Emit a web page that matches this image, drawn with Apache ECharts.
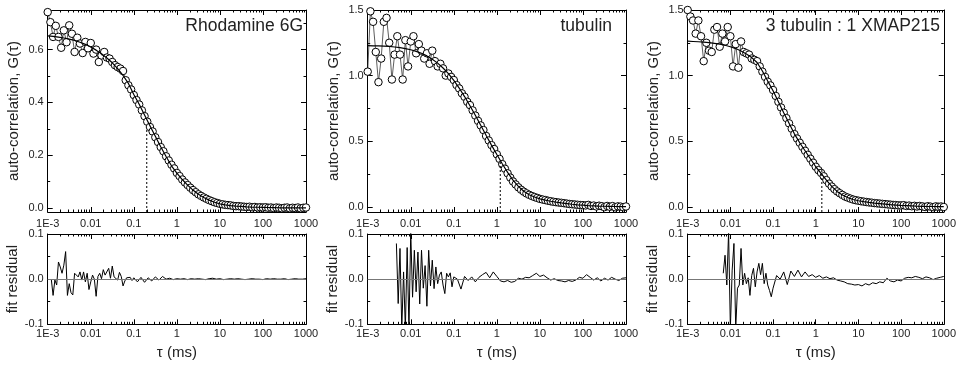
<!DOCTYPE html>
<html><head><meta charset="utf-8">
<script src="https://cdn.jsdelivr.net/npm/echarts@6/dist/echarts.min.js"></script>
<style>html,body{margin:0;padding:0;background:#fff}#c{width:959px;height:366px}</style>
</head><body><div id="c"></div>
<script>
// ---------- DATA ----------
const panelTitles = ['Rhodamine 6G', 'tubulin', '3 tubulin : 1 XMAP215'];
const xTickValues = [0.001, 0.01, 0.1, 1, 10, 100, 1000];
const xTickLabels = ['1E-3', '0.01', '0.1', '1', '10', '100', '1000'];
const yTickTop = [[0, 0.2, 0.4, 0.6], [0, 0.5, 1.0, 1.5], [0, 0.5, 1.0, 1.5]];
const yMinorTop = [[0.1, 0.3, 0.5, 0.7], [0.25, 0.75, 1.25], [0.25, 0.75, 1.25]];
const yRangeTop = [[-0.015, 0.75], [-0.04, 1.5], [-0.04, 1.5]];
const resTicks = [-0.1, 0, 0.1];
const resMinor = [-0.05, 0.05];
const resRange = [-0.1, 0.1];

// lag times of the correlation points (ms)
const lagTau = [
 0.001000,0.001155,0.001334,0.001540,0.001778,0.002054,0.002371,0.002738,0.003162,0.003652,0.004217,0.004870,0.005623,0.006494,0.007499,0.008660,
 0.01000,0.01155,0.01334,0.01540,0.01778,0.02054,0.02371,0.02738,0.03162,0.03652,0.04217,0.04870,0.05623,0.06494,0.07499,0.08660,
 0.1000,0.1155,0.1334,0.1540,0.1778,0.2054,0.2371,0.2738,0.3162,0.3652,0.4217,0.4870,0.5623,0.6494,0.7499,0.8660,
 1.000,1.155,1.334,1.540,1.778,2.054,2.371,2.738,3.162,3.652,4.217,4.870,5.623,6.494,7.499,8.660,
 10.00,11.55,13.34,15.40,17.78,20.54,23.71,27.38,31.62,36.52,42.17,48.70,56.23,64.94,74.99,86.60,
 100.0,115.5,133.4,154.0,177.8,205.4,237.1,273.8,316.2,365.2,421.7,487.0,562.3,649.4,749.9,866.0,
 1000];
// lag times of the fit curves (ms)
const fitTau = [
 0.001,0.001334,0.001778,0.002371,0.003162,0.004217,0.005623,0.007499,
 0.01,0.01334,0.01778,0.02371,0.03162,0.04217,0.05623,0.07499,
 0.1,0.1334,0.1778,0.2371,0.3162,0.4217,0.5623,0.7499,
 1,1.334,1.778,2.371,3.162,4.217,5.623,7.499,
 10,13.34,17.78,23.71,31.62,42.17,56.23,74.99,
 100,133.4,177.8,237.1,316.2,421.7,562.3,749.9,
 1000];
// lag times of the residual traces (ms)
const resTau = [
 0.001000,0.001101,0.001212,0.001334,0.001468,0.001616,0.001778,0.001957,0.002154,0.002371,0.002610,0.002873,0.003162,0.003481,0.003831,0.004217,0.004642,0.005109,0.005623,0.006190,0.006813,0.007499,0.008254,0.009085,
 0.01000,0.01101,0.01212,0.01334,0.01468,0.01616,0.01778,0.01957,0.02154,0.02371,0.02610,0.02873,0.03162,0.03481,0.03831,0.04217,0.04642,0.05109,0.05623,0.06190,0.06813,0.07499,0.08254,0.09085,
 0.1000,0.1212,0.1468,0.1778,0.2154,0.2610,0.3162,0.3831,0.4642,0.5623,0.6813,0.8254,
 1.000,1.212,1.468,1.778,2.154,2.610,3.162,3.831,4.642,5.623,6.813,8.254,
 10.00,12.12,14.68,17.78,21.54,26.10,31.62,38.31,46.42,56.23,68.13,82.54,
 100.0,121.2,146.8,177.8,215.4,261.0,316.2,383.1,464.2,562.3,681.3,825.4,
 1000];

// Rhodamine 6G
const r6gG = [
 0.742,0.704,0.648,0.690,0.648,0.607,0.673,0.628,0.692,0.660,0.591,0.645,0.623,0.587,0.629,0.605,
 0.625,0.585,0.600,0.553,0.578,0.591,0.570,0.566,0.553,0.541,0.534,0.528,0.519,0.484,0.465,0.449,
 0.428,0.409,0.392,0.370,0.348,0.327,0.307,0.290,0.268,0.250,0.231,0.215,0.196,0.180,0.164,0.150,
 0.133,0.121,0.108,0.097,0.087,0.077,0.068,0.060,0.052,0.046,0.040,0.035,0.030,0.026,0.022,0.019,
 0.016,0.014,0.012,0.011,0.010,0.008,0.007,0.007,0.006,0.005,0.004,0.005,0.003,0.004,0.002,0.003,
 0.002,0.003,0.001,0.002,0.000,0.002,0.001,-0.001,0.001,0.002,-0.001,0.001,0.000,0.002,-0.001,0.001,
 0.002];
const r6gFit = [
 0.652,0.650,0.647,0.644,0.640,0.635,0.628,0.620,
 0.610,0.598,0.584,0.568,0.550,0.528,0.502,0.472,
 0.430,0.393,0.352,0.312,0.272,0.232,0.195,0.160,
 0.132,0.108,0.087,0.068,0.052,0.040,0.030,0.022,
 0.016,0.012,0.0095,0.0075,0.006,0.0045,0.0035,0.003,
 0.0025,0.002,0.0015,0.001,0.001,0.001,0.0008,0.0006,
 0.0005];
const r6gRes = [
 null,null,0.000,-0.036,-0.002,-0.013,0.038,0.027,0.013,0.031,0.061,-0.036,-0.010,-0.030,-0.035,0.013,
 0.016,0.005,0.016,-0.002,0.016,-0.006,0.013,-0.023,-0.006,0.009,0.000,-0.038,0.006,0.013,0.001,0.021,
 0.009,0.005,0.024,0.002,0.029,0.005,0.009,-0.002,0.015,0.006,-0.015,-0.004,0.003,0.000,0.004,-0.003,0.003,
 -0.006,0.004,-0.007,0.003,-0.004,0.005,-0.002,0.006,0.000,0.002,-0.001,0.001,
 0.000,0.001,-0.001,0.001,0.000,0.001,0.000,-0.001,0.001,0.002,0.000,0.001,
 -0.001,0.000,0.001,0.000,0.001,0.000,-0.001,0.000,0.001,0.000,0.000,-0.001,
 0.001,0.000,0.001,0.000,0.000,0.001,-0.001,0.000,0.001,0.000,0.000,0.001];

// tubulin
const tubG = [
 1.03,1.49,1.41,1.18,0.95,1.13,1.41,1.44,1.25,0.97,1.16,1.30,1.16,0.97,1.27,1.07,
 1.26,1.30,1.17,1.24,1.19,1.13,1.17,1.09,1.19,1.11,1.07,1.09,1.055,1.00,1.016,0.99,
 0.966,0.928,0.902,0.865,0.838,0.80,0.775,0.735,0.695,0.655,0.62,0.585,0.54,0.505,0.47,0.44,
 0.40,0.365,0.325,0.29,0.255,0.222,0.193,0.17,0.148,0.13,0.115,0.102,0.091,0.082,0.074,0.067,
 0.060,0.055,0.051,0.046,0.042,0.038,0.035,0.032,0.030,0.027,0.024,0.021,0.019,0.017,0.015,0.013,
 0.012,0.010,0.014,0.006,0.009,0.002,0.008,0.004,-0.003,0.006,0.000,0.005,-0.004,0.003,0.001,-0.003,
 0.002];
const tubFit = [
 1.228,1.227,1.226,1.224,1.222,1.218,1.213,1.206,
 1.197,1.185,1.170,1.150,1.125,1.095,1.058,1.015,
 0.963,0.905,0.840,0.770,0.697,0.622,0.545,0.470,
 0.398,0.328,0.262,0.203,0.155,0.118,0.092,0.074,
 0.060,0.050,0.042,0.035,0.029,0.024,0.019,0.015,
 0.012,0.009,0.007,0.005,0.004,0.003,0.002,0.001,
 0.001];
const tubRes = [
 null,null,null,null,null,null,null,null,null,null,null,null,null,null,null,null,
 0.079,-0.054,0.068,-0.11,0.016,-0.11,0.07,-0.11,0.105,-0.04,0.064,-0.028,0.06,-0.055,0.064,-0.02,
 0.03,-0.06,0.064,-0.015,0.042,-0.021,0.027,-0.01,0.009,0.016,-0.013,-0.032,0.013,0.005,0.014,-0.017,0.005,
 0.000,-0.022,0.006,-0.003,0.005,-0.006,0.004,0.010,0.015,0.003,0.016,0.006,
 -0.004,-0.006,-0.003,-0.007,-0.005,0.002,0.000,0.004,0.003,0.008,0.013,0.006,
 0.009,0.003,-0.002,0.001,-0.003,-0.004,-0.006,-0.003,-0.005,-0.002,0.004,0.002,
 0.010,0.004,-0.002,0.003,-0.004,0.002,-0.002,0.004,0.000,-0.003,0.002,0.003];

// 3 tubulin : 1 XMAP215
const mixG = [
 1.50,1.45,1.42,1.32,1.42,1.30,1.11,1.25,1.19,1.18,1.35,1.37,1.22,1.32,1.26,1.37,
 1.30,1.07,1.24,1.06,1.26,1.18,1.17,1.16,1.13,1.12,1.11,1.07,1.03,0.99,0.953,0.925,
 0.89,0.845,0.80,0.757,0.717,0.676,0.636,0.595,0.554,0.52,0.488,0.457,0.427,0.396,0.366,0.336,
 0.305,0.279,0.258,0.232,0.203,0.176,0.154,0.134,0.117,0.103,0.090,0.078,0.070,0.062,0.055,0.050,
 0.046,0.042,0.039,0.036,0.033,0.031,0.028,0.026,0.024,0.022,0.020,0.018,0.016,0.014,0.013,0.011,
 0.010,0.012,0.006,0.009,0.004,0.007,0.002,0.006,0.003,-0.002,0.004,0.001,-0.003,0.003,0.000,0.002,
 -0.002];
const mixFit = [
 1.262,1.260,1.258,1.255,1.251,1.246,1.240,1.231,
 1.220,1.206,1.188,1.165,1.137,1.100,1.035,0.958,
 0.885,0.800,0.717,0.636,0.556,0.488,0.427,0.366,
 0.305,0.255,0.203,0.155,0.117,0.090,0.070,0.055,
 0.046,0.039,0.033,0.028,0.024,0.020,0.016,0.013,
 0.010,0.008,0.006,0.004,0.003,0.002,0.002,0.001,
 0.001];
const mixRes = [
 null,null,null,null,null,null,null,null,null,null,null,null,null,null,null,null,null,null,null,null,
 0.013,0.053,-0.013,0.105,-0.11,0.02,0.079,-0.11,-0.02,-0.013,0.068,-0.013,0.013,-0.01,0.003,-0.036,
 0.008,0.024,-0.017,0.016,0.035,0.01,0.035,-0.01,0.013,-0.013,-0.025,-0.039,-0.02,
 0.008,0.000,0.016,-0.012,0.018,0.006,0.020,0.005,0.016,0.006,0.010,0.004,
 0.008,0.002,0.005,0.001,0.003,-0.002,-0.004,-0.006,-0.010,-0.011,-0.013,-0.012,
 -0.015,-0.010,-0.013,-0.008,-0.010,-0.006,-0.008,0.002,-0.004,-0.006,-0.002,-0.004,
 0.002,0.004,0.003,0.006,0.004,0.001,0.005,0.003,-0.001,0.002,0.004,0.006];

// dotted marker lines (diffusion time) : tau and height
const dottedTau = [0.2, 1.2, 1.39];
const dottedTop = [0.30, 0.355, 0.28];

const panels = [
  {g: r6gG, fit: r6gFit, res: r6gRes},
  {g: tubG, fit: tubFit, res: tubRes},
  {g: mixG, fit: mixFit, res: mixRes}
];

// ---------- LAYOUT / STYLE ----------
const FONT = "'Liberation Sans', Arial, Helvetica, sans-serif";
const TXT = '#222';
const lefts = [47.7, 367.7, 687.7];
const W = 258.3;
const topBox = {top: 10, height: 202};
const resBox = {top: 234, height: 90.3};
const titleRight = [656, 347, 19];

const minorLogPos = [];
for (let d = -3; d < 3; d++) for (let m = 2; m <= 9; m++) minorLogPos.push(d + Math.log10(m));
const majorLogPos = xTickValues.map(v => Math.log10(v));

const grids = [], xAxes = [], yAxes = [], series = [];

function fmtX(v) {
  const k = xTickValues.findIndex(t => Math.abs(Math.log10(t) - Math.log10(v)) < 1e-6);
  return k >= 0 ? xTickLabels[k] : '';
}
function decoX(gi, pos, vals, len) {
  xAxes.push({type: 'value', gridIndex: gi, min: -3, max: 3, position: pos, show: true,
    axisLine: {show: false, onZero: false}, splitLine: {show: false},
    axisLabel: {show: false},
    axisTick: {show: true, inside: true, length: len, customValues: vals, lineStyle: {color: '#000', width: 1}}});
}
function decoY(gi, pos, range, vals, len, line) {
  yAxes.push({type: 'value', gridIndex: gi, min: range[0], max: range[1], position: pos, show: true,
    axisLine: {show: line, onZero: false, lineStyle: {color: '#000', width: 1}}, splitLine: {show: false},
    axisLabel: {show: false},
    axisTick: {show: true, inside: true, length: len, customValues: vals, lineStyle: {color: '#000', width: 1}}});
}

function addGrid(left, box, range, major, minor, yName, xName, labelMargin) {
  const gi = grids.length;
  grids.push({left: left, top: box.top, width: W, height: box.height});
  const xi = xAxes.length;
  xAxes.push({type: 'log', logBase: 10, gridIndex: gi, min: 0.001, max: 1000, position: 'bottom',
    splitNumber: 6,
    axisLine: {show: true, onZero: false, lineStyle: {color: '#000', width: 1}},
    axisTick: {show: true, inside: true, length: 5, lineStyle: {color: '#000', width: 1}},
    minorTick: {show: false}, splitLine: {show: false},
    axisLabel: {show: true, margin: labelMargin, fontSize: 11, color: TXT, fontFamily: FONT,
      formatter: fmtX, showMinLabel: true, showMaxLabel: true},
    name: xName, nameLocation: 'middle', nameGap: 21,
    nameTextStyle: {fontSize: 15, color: TXT, fontFamily: FONT}});
  decoX(gi, 'bottom', minorLogPos, 2.5);
  decoX(gi, 'top', majorLogPos, 5);
  decoX(gi, 'top', minorLogPos, 2.5);
  // top frame line
  xAxes.push({type: 'value', gridIndex: gi, min: -3, max: 3, position: 'top', show: true,
    axisLine: {show: true, onZero: false, lineStyle: {color: '#000', width: 1}},
    axisTick: {show: false}, axisLabel: {show: false}, splitLine: {show: false}});
  const yi = yAxes.length;
  yAxes.push({type: 'value', gridIndex: gi, min: range[0], max: range[1], position: 'left',
    axisLine: {show: true, onZero: false, lineStyle: {color: '#000', width: 1}},
    axisTick: {show: true, inside: true, length: 5, customValues: major, lineStyle: {color: '#000', width: 1}},
    splitLine: {show: false},
    axisLabel: {show: true, customValues: major, margin: 4, fontSize: 11, color: TXT, fontFamily: FONT,
      formatter: v => (Math.abs(v) < 1e-9 ? 0 : v).toFixed(1)},
    name: yName, nameLocation: 'middle', nameGap: 26,
    nameTextStyle: {fontSize: 15, color: TXT, fontFamily: FONT}});
  decoY(gi, 'left', range, minor, 2.5, false);
  decoY(gi, 'right', range, major, 5, true);
  decoY(gi, 'right', range, minor, 2.5, false);
  return {xi, yi};
}

const titles = [];
panels.forEach((p, k) => {
  const t = addGrid(lefts[k], topBox, yRangeTop[k], yTickTop[k], yMinorTop[k], 'auto-correlation, G(τ)', '', 6);
  const r = addGrid(lefts[k], resBox, resRange, resTicks, resMinor, 'fit residual', 'τ (ms)', 4);
  // measured points
  series.push({type: 'line', xAxisIndex: t.xi, yAxisIndex: t.yi, z: 2,
    data: lagTau.map((x, i) => [x, p.g[i]]).filter(d => d[1] !== null),
    symbol: 'circle', symbolSize: 7.5, showSymbol: true, showAllSymbol: true,
    itemStyle: {color: '#fff', borderColor: '#000', borderWidth: 1},
    lineStyle: {color: '#333', width: 0.8}, animation: false});
  // fit
  series.push({type: 'line', xAxisIndex: t.xi, yAxisIndex: t.yi, z: 3,
    data: fitTau.map((x, i) => [x, p.fit[i]]),
    symbol: 'none', lineStyle: {color: '#000', width: 1.2}, animation: false});
  // dotted marker
  series.push({type: 'line', xAxisIndex: t.xi, yAxisIndex: t.yi, z: 4,
    data: [[dottedTau[k], yRangeTop[k][0]], [dottedTau[k], dottedTop[k]]],
    symbol: 'none', lineStyle: {color: '#000', width: 1, type: [2, 2]}, animation: false});
  // residual
  series.push({type: 'line', xAxisIndex: r.xi, yAxisIndex: r.yi, z: 3,
    data: resTau.map((x, i) => [x, p.res[i]]).filter(d => d[1] !== null),
    symbol: 'none', lineStyle: {color: '#000', width: 1}, animation: false, clip: true,
    markLine: {silent: true, symbol: 'none', animation: false, label: {show: false},
      lineStyle: {color: '#777', width: 1, type: 'solid'}, data: [{yAxis: 0}]}});
  titles.push({text: panelTitles[k], right: titleRight[k], top: 17, padding: 0,
    textStyle: {fontSize: 17.5, fontWeight: 'normal', color: TXT, fontFamily: FONT}});
});

const chart = echarts.init(document.getElementById('c'), null, {renderer: 'canvas'});
chart.setOption({
  animation: false,
  backgroundColor: '#fff',
  title: titles,
  grid: grids, xAxis: xAxes, yAxis: yAxes, series: series
});
</script></body></html>
